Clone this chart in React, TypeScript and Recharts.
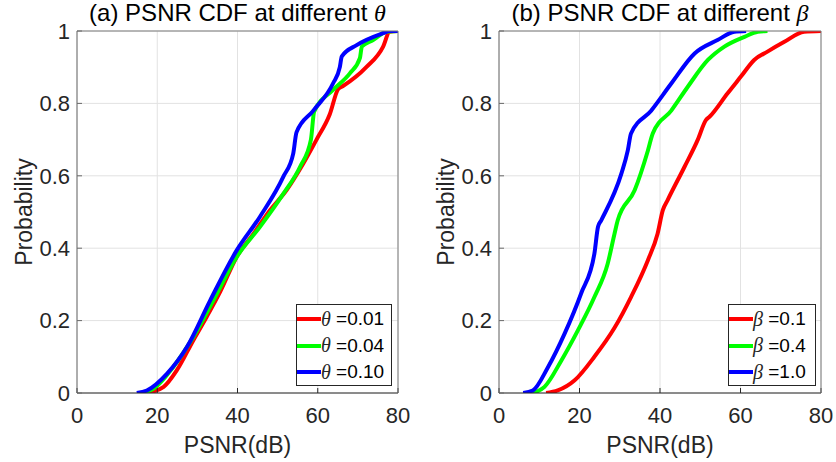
import { LineChart, Line, XAxis, YAxis, CartesianGrid, Legend } from 'recharts';

// (a) PSNR CDF for different theta
const psnrTheta001 = [17.4, 21.6, 24.9, 29, 32.3, 35.7, 39.8, 44, 48.1, 52.2, 56.4, 59.7, 63, 65.1, 66.3, 72.1, 76.3, 77.9, 80];
const cdfTheta001 = [0, 0.017, 0.063, 0.146, 0.21, 0.28, 0.376, 0.44, 0.505, 0.56, 0.634, 0.7, 0.77, 0.84, 0.848, 0.9, 0.957, 0.998, 1];
const psnrTheta004 = [15.8, 19.1, 24, 29, 34, 39.8, 45.6, 51.4, 55.6, 58.3, 59.1, 63.8, 68, 70.5, 71, 73.8, 77.1, 80];
const cdfTheta004 = [0, 0.012, 0.072, 0.155, 0.256, 0.376, 0.459, 0.55, 0.625, 0.7, 0.777, 0.837, 0.883, 0.925, 0.957, 0.975, 0.998, 1];
const psnrTheta010 = [14.9, 17.4, 22.4, 27.4, 33.2, 39.8, 45.6, 51.4, 53.9, 54.7, 58.9, 63.8, 65.5, 66, 69.7, 76.3, 77.9, 80];
const cdfTheta010 = [0, 0.007, 0.053, 0.127, 0.256, 0.394, 0.487, 0.597, 0.662, 0.72, 0.78, 0.855, 0.9, 0.93, 0.961, 0.994, 1, 1];

// (b) PSNR CDF for different beta
const psnrBeta01 = [11.7, 14.6, 18.8, 23.7, 28.7, 32.8, 37, 39.4, 40.7, 41.9, 46.1, 49.4, 51.4, 52.3, 56.8, 60.1, 63.4, 66.7, 70.9, 75.8, 80];
const cdfBeta01 = [0, 0.007, 0.035, 0.1, 0.18, 0.265, 0.367, 0.44, 0.505, 0.533, 0.625, 0.7, 0.754, 0.763, 0.828, 0.874, 0.92, 0.943, 0.97, 0.998, 1];
const psnrBeta04 = [8.4, 11.3, 15.5, 19.6, 23.7, 27, 28.7, 29.5, 33.7, 37, 38.2, 42.8, 46.9, 51.9, 56, 61, 64.3, 66.7];
const cdfBeta04 = [0, 0.017, 0.09, 0.173, 0.265, 0.357, 0.44, 0.477, 0.56, 0.67, 0.717, 0.78, 0.846, 0.92, 0.957, 0.984, 0.998, 1];
const psnrBeta10 = [6, 8.4, 12.2, 16.3, 20.4, 23.7, 24.6, 25.4, 30.4, 32, 32.8, 37.8, 42.8, 48.6, 54.3, 58.5, 61.4];
const cdfBeta10 = [0, 0.007, 0.072, 0.164, 0.275, 0.385, 0.459, 0.477, 0.606, 0.67, 0.717, 0.78, 0.855, 0.938, 0.975, 0.998, 1];

const xTicks = [0, 20, 40, 60, 80];
const yTicks = [0, 0.2, 0.4, 0.6, 0.8, 1];

const FONT = '"Liberation Sans", Arial, Helvetica, sans-serif';
const SERIF = '"Liberation Serif", "DejaVu Serif", serif';
const INK = '#262626';

type Pt = { x: number; y: number };
type Series = { name: string; color: string; data: Pt[] };

const toPoints = (xs: number[], ys: number[]): Pt[] => xs.map((x, i) => ({ x, y: ys[i] }));
const fmtY = (v: number) => (v === 0 || v === 1 ? String(v) : v.toFixed(1));

const thetaSeries: Series[] = [
  { name: '=0.01', color: '#ff0000', data: toPoints(psnrTheta001, cdfTheta001) },
  { name: '=0.04', color: '#00ff00', data: toPoints(psnrTheta004, cdfTheta004) },
  { name: '=0.10', color: '#0000ff', data: toPoints(psnrTheta010, cdfTheta010) },
];

const betaSeries: Series[] = [
  { name: '=0.1', color: '#ff0000', data: toPoints(psnrBeta01, cdfBeta01) },
  { name: '=0.4', color: '#00ff00', data: toPoints(psnrBeta04, cdfBeta04) },
  { name: '=1.0', color: '#0000ff', data: toPoints(psnrBeta10, cdfBeta10) },
];

type PanelProps = {
  title: string;
  symbol: string;
  series: Series[];
  yAxisWidth: number;
  marginRight: number;
  yLabelOffset: number;
  legendLeft: number;
  legendWidth: number;
};

const LegendBox = ({ series, symbol, width }: { series: Series[]; symbol: string; width: number }) => (
  <div
    style={{
      boxSizing: 'border-box',
      width,
      height: 82,
      border: `1px solid ${INK}`,
      background: '#fff',
      paddingTop: 1,
    }}
  >
    {series.map((s) => (
      <div key={s.name} style={{ display: 'flex', alignItems: 'center', height: 26.5, whiteSpace: 'nowrap' }}>
        <span style={{ display: 'inline-block', width: 24, height: 4, background: s.color }} />
        <span style={{ fontFamily: SERIF, fontStyle: 'italic', fontSize: 20, color: INK }}>{symbol}</span>
        <span style={{ fontFamily: FONT, fontSize: 19, color: '#000' }}>&nbsp;{s.name}</span>
      </div>
    ))}
  </div>
);

const Panel = ({ title, symbol, series, yAxisWidth, marginRight, yLabelOffset, legendLeft, legendWidth }: PanelProps) => {
  const plotLeft = yAxisWidth;
  const plotRight = 418 - marginRight - 1;
  return (
    <div style={{ position: 'relative', width: 418, height: 462 }}>
      <div
        style={{
          position: 'absolute',
          left: plotLeft,
          width: plotRight - plotLeft,
          top: 1,
          textAlign: 'center',
          fontFamily: FONT,
          fontSize: 24,
          lineHeight: '24px',
          color: '#000',
          whiteSpace: 'nowrap',
          zIndex: 1,
        }}
      >
        {title} <span style={{ fontFamily: SERIF, fontStyle: 'italic' }}>{symbol}</span>
      </div>
      <LineChart width={418} height={462} margin={{ top: 30, right: marginRight, bottom: 0, left: 0 }}>
        <CartesianGrid stroke="#e2e2e2" strokeWidth={1} />
        <XAxis
          dataKey="x"
          type="number"
          domain={[0, 80]}
          ticks={xTicks}
          allowDataOverflow
          height={69}
          tickSize={-5}
          tickMargin={19}
          stroke={INK}
          tick={{ fill: INK, fontSize: 22, fontFamily: FONT }}
          label={{ value: 'PSNR(dB)', position: 'insideBottom', offset: 9, fill: INK, fontSize: 23, fontFamily: FONT }}
        />
        <XAxis
          xAxisId="top"
          orientation="top"
          type="number"
          domain={[0, 80]}
          ticks={xTicks}
          height={1}
          tickSize={-5}
          tickFormatter={() => ''}
          stroke="#7a7a7a"
        />
        <YAxis
          type="number"
          domain={[0, 1]}
          ticks={yTicks}
          allowDataOverflow
          width={yAxisWidth}
          tickSize={-5}
          tickMargin={12}
          tickFormatter={fmtY}
          stroke="#6a6a6a"
          tick={{ fill: INK, fontSize: 22, fontFamily: FONT }}
          label={{
            value: 'Probability',
            angle: -90,
            position: 'insideLeft',
            offset: yLabelOffset,
            fill: INK,
            fontSize: 23,
            fontFamily: FONT,
            style: { textAnchor: 'middle' },
          }}
        />
        <YAxis
          yAxisId="right"
          orientation="right"
          type="number"
          domain={[0, 1]}
          ticks={yTicks}
          width={1}
          tickSize={-5}
          tickFormatter={() => ''}
          stroke="#7a7a7a"
        />
        {series.map((s) => (
          <Line
            key={s.name}
            data={s.data}
            dataKey="y"
            name={s.name}
            type="monotone"
            stroke={s.color}
            strokeWidth={4}
            strokeLinejoin="round"
            dot={false}
            activeDot={false}
            isAnimationActive={false}
          />
        ))}
        <Legend
          layout="horizontal"
          verticalAlign="middle"
          align="center"
          wrapperStyle={{ left: legendLeft, top: 304, width: legendWidth }}
          content={() => <LegendBox series={series} symbol={symbol} width={legendWidth} />}
        />
      </LineChart>
    </div>
  );
};

export default function App() {
  return (
    <div style={{ position: 'absolute', left: 0, top: 0, width: 836, height: 462, background: '#fff', display: 'flex' }}>
      <Panel
        title="(a) PSNR CDF at different"
        symbol="θ"
        series={thetaSeries}
        yAxisWidth={77}
        marginRight={19}
        yLabelOffset={24}
        legendLeft={296}
        legendWidth={96}
      />
      <Panel
        title="(b) PSNR CDF at different"
        symbol="β"
        series={betaSeries}
        yAxisWidth={81}
        marginRight={14}
        yLabelOffset={28}
        legendLeft={310}
        legendWidth={88}
      />
    </div>
  );
}
